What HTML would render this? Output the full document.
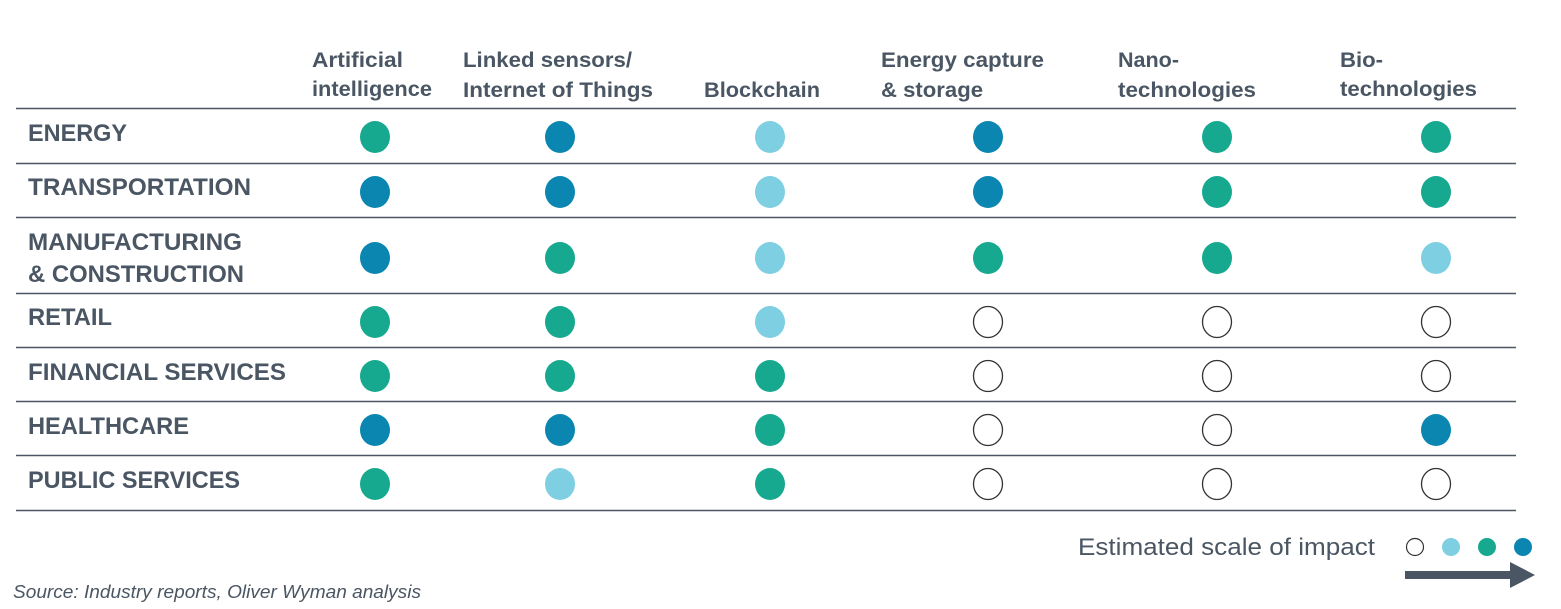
<!DOCTYPE html>
<html><head><meta charset="utf-8"><style>
html,body{margin:0;padding:0;background:#fff;}
svg{display:block;font-family:"Liberation Sans",sans-serif;}
.h{font-size:21px;font-weight:bold;fill:#4a5663;}
.r{font-size:24px;font-weight:bold;fill:#4a5663;}
.T{fill:#17a98f}.D{fill:#0a86b0}.L{fill:#7fcfe2}.O{fill:#fff;stroke:#333;stroke-width:1.3}
</style></head><body>
<svg width="1561" height="609" viewBox="0 0 1561 609" xmlns="http://www.w3.org/2000/svg">
<g class="h">
<text x="312" y="67" textLength="91" lengthAdjust="spacingAndGlyphs">Artificial</text>
<text x="312" y="96" textLength="120" lengthAdjust="spacingAndGlyphs">intelligence</text>
<text x="463" y="67" textLength="169" lengthAdjust="spacingAndGlyphs">Linked sensors/</text>
<text x="463" y="97" textLength="190" lengthAdjust="spacingAndGlyphs">Internet of Things</text>
<text x="704" y="97" textLength="116" lengthAdjust="spacingAndGlyphs">Blockchain</text>
<text x="881" y="67" textLength="163" lengthAdjust="spacingAndGlyphs">Energy capture</text>
<text x="881" y="97" textLength="102" lengthAdjust="spacingAndGlyphs">&amp; storage</text>
<text x="1118" y="67" textLength="61" lengthAdjust="spacingAndGlyphs">Nano-</text>
<text x="1118" y="97" textLength="138" lengthAdjust="spacingAndGlyphs">technologies</text>
<text x="1340" y="67" textLength="43" lengthAdjust="spacingAndGlyphs">Bio-</text>
<text x="1340" y="96" textLength="137" lengthAdjust="spacingAndGlyphs">technologies</text>
</g>
<g stroke="#4a5663" stroke-width="1.5">
<line x1="16" y1="108.5" x2="1516" y2="108.5"/>
<line x1="16" y1="163.5" x2="1516" y2="163.5"/>
<line x1="16" y1="217.5" x2="1516" y2="217.5"/>
<line x1="16" y1="293.5" x2="1516" y2="293.5"/>
<line x1="16" y1="347.5" x2="1516" y2="347.5"/>
<line x1="16" y1="401.5" x2="1516" y2="401.5"/>
<line x1="16" y1="455.5" x2="1516" y2="455.5"/>
<line x1="16" y1="510.5" x2="1516" y2="510.5"/>
</g>
<g class="r">
<text x="28" y="141" textLength="99" lengthAdjust="spacingAndGlyphs">ENERGY</text>
<text x="28" y="195" textLength="223" lengthAdjust="spacingAndGlyphs">TRANSPORTATION</text>
<text x="28" y="250" textLength="214" lengthAdjust="spacingAndGlyphs">MANUFACTURING</text>
<text x="28" y="282" textLength="216" lengthAdjust="spacingAndGlyphs">&amp; CONSTRUCTION</text>
<text x="28" y="325" textLength="84" lengthAdjust="spacingAndGlyphs">RETAIL</text>
<text x="28" y="380" textLength="258" lengthAdjust="spacingAndGlyphs">FINANCIAL SERVICES</text>
<text x="28" y="434" textLength="161" lengthAdjust="spacingAndGlyphs">HEALTHCARE</text>
<text x="28" y="488" textLength="212" lengthAdjust="spacingAndGlyphs">PUBLIC SERVICES</text>
</g>
<g>
<!-- ENERGY TDLDTT -->
<ellipse class="T" cx="375" cy="137" rx="15" ry="16"/><ellipse class="D" cx="560" cy="137" rx="15" ry="16"/><ellipse class="L" cx="770" cy="137" rx="15" ry="16"/><ellipse class="D" cx="988" cy="137" rx="15" ry="16"/><ellipse class="T" cx="1217" cy="137" rx="15" ry="16"/><ellipse class="T" cx="1436" cy="137" rx="15" ry="16"/>
<!-- TRANS DDLDTT -->
<ellipse class="D" cx="375" cy="192" rx="15" ry="16"/><ellipse class="D" cx="560" cy="192" rx="15" ry="16"/><ellipse class="L" cx="770" cy="192" rx="15" ry="16"/><ellipse class="D" cx="988" cy="192" rx="15" ry="16"/><ellipse class="T" cx="1217" cy="192" rx="15" ry="16"/><ellipse class="T" cx="1436" cy="192" rx="15" ry="16"/>
<!-- MANUF DTLTTL -->
<ellipse class="D" cx="375" cy="258" rx="15" ry="16"/><ellipse class="T" cx="560" cy="258" rx="15" ry="16"/><ellipse class="L" cx="770" cy="258" rx="15" ry="16"/><ellipse class="T" cx="988" cy="258" rx="15" ry="16"/><ellipse class="T" cx="1217" cy="258" rx="15" ry="16"/><ellipse class="L" cx="1436" cy="258" rx="15" ry="16"/>
<!-- RETAIL TTLOOO -->
<ellipse class="T" cx="375" cy="322" rx="15" ry="16"/><ellipse class="T" cx="560" cy="322" rx="15" ry="16"/><ellipse class="L" cx="770" cy="322" rx="15" ry="16"/><ellipse class="O" cx="988" cy="322" rx="14.5" ry="15.5"/><ellipse class="O" cx="1217" cy="322" rx="14.5" ry="15.5"/><ellipse class="O" cx="1436" cy="322" rx="14.5" ry="15.5"/>
<!-- FIN TTTOOO -->
<ellipse class="T" cx="375" cy="376" rx="15" ry="16"/><ellipse class="T" cx="560" cy="376" rx="15" ry="16"/><ellipse class="T" cx="770" cy="376" rx="15" ry="16"/><ellipse class="O" cx="988" cy="376" rx="14.5" ry="15.5"/><ellipse class="O" cx="1217" cy="376" rx="14.5" ry="15.5"/><ellipse class="O" cx="1436" cy="376" rx="14.5" ry="15.5"/>
<!-- HEALTH DDTOOD -->
<ellipse class="D" cx="375" cy="430" rx="15" ry="16"/><ellipse class="D" cx="560" cy="430" rx="15" ry="16"/><ellipse class="T" cx="770" cy="430" rx="15" ry="16"/><ellipse class="O" cx="988" cy="430" rx="14.5" ry="15.5"/><ellipse class="O" cx="1217" cy="430" rx="14.5" ry="15.5"/><ellipse class="D" cx="1436" cy="430" rx="15" ry="16"/>
<!-- PUBLIC TLTOOO -->
<ellipse class="T" cx="375" cy="484" rx="15" ry="16"/><ellipse class="L" cx="560" cy="484" rx="15" ry="16"/><ellipse class="T" cx="770" cy="484" rx="15" ry="16"/><ellipse class="O" cx="988" cy="484" rx="14.5" ry="15.5"/><ellipse class="O" cx="1217" cy="484" rx="14.5" ry="15.5"/><ellipse class="O" cx="1436" cy="484" rx="14.5" ry="15.5"/>
</g>
<text x="1078" y="555" font-size="24" fill="#4a5663" textLength="297" lengthAdjust="spacingAndGlyphs">Estimated scale of impact</text>
<circle cx="1415" cy="547" r="8.5" fill="#fff" stroke="#333" stroke-width="1.2"/>
<circle cx="1451" cy="547" r="9" fill="#7fcfe2"/>
<circle cx="1487" cy="547" r="9" fill="#17a98f"/>
<circle cx="1523" cy="547" r="9" fill="#0a86b0"/>
<rect x="1405" y="571" width="108" height="8" fill="#4a5663"/>
<polygon points="1510,562 1535,575 1510,588" fill="#4a5663"/>
<text x="13" y="598" font-size="18" font-style="italic" fill="#4a5663" textLength="408" lengthAdjust="spacingAndGlyphs">Source: Industry reports, Oliver Wyman analysis</text>
</svg>
</body></html>
